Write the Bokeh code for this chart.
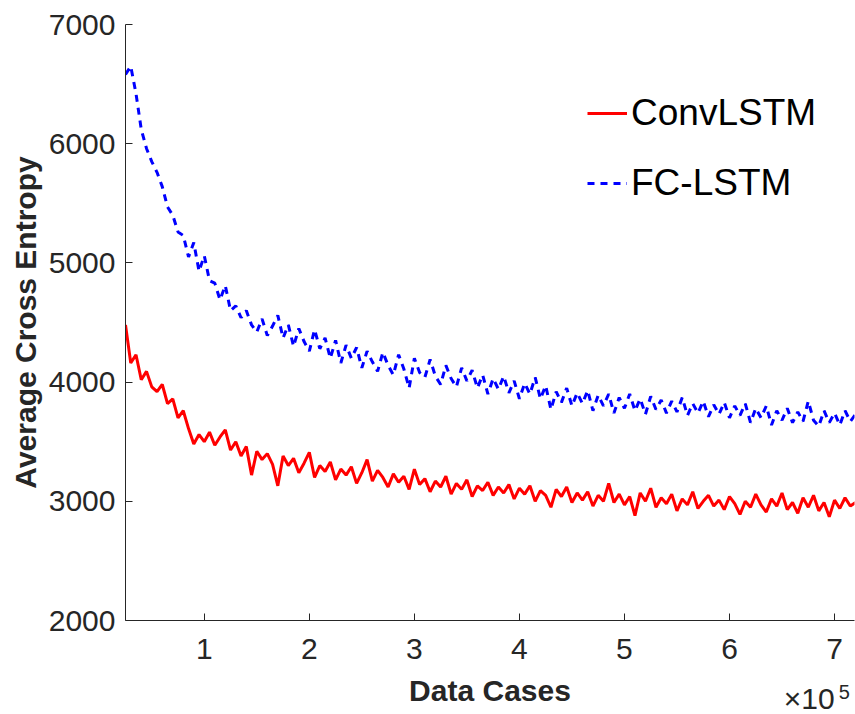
import numpy as np
from bokeh.plotting import figure
from bokeh.models import (Range1d, FixedTicker, CustomJSTickFormatter, Legend,
                          LegendItem, LinearAxis)
from bokeh.embed import file_html
from bokeh.resources import INLINE

# ---------------- data ----------------
x_start = 25000          # first data case
x_step = 5000            # spacing between recorded points

conv_lstm = [
    4480, 4160, 4230, 4020, 4090, 3960, 3920, 3980, 3820, 3860,
    3700, 3760, 3610, 3480, 3560, 3500, 3580, 3470, 3540, 3600,
    3430, 3500, 3380, 3460, 3220, 3420, 3350, 3400, 3310, 3130,
    3380, 3300, 3360, 3240, 3320, 3410, 3200, 3300, 3250, 3330,
    3180, 3270, 3220, 3290, 3150, 3240, 3350, 3170, 3260, 3200,
    3120, 3230, 3160, 3210, 3100, 3270, 3140, 3190, 3080, 3170,
    3120, 3210, 3060, 3150, 3100, 3180, 3040, 3130, 3090, 3160,
    3050, 3120, 3070, 3140, 3020, 3110, 3060, 3130, 3000, 3090,
    3050, 2950, 3100, 3040, 3120, 2990, 3070, 3010, 3080, 2960,
    3050, 3000, 3150, 2990, 3060, 2970, 3040, 2880, 3070, 3000,
    3110, 2950, 3030, 2980, 3060, 2920, 3020, 2970, 3080, 2940,
    3000, 3050, 2960, 3010, 2930, 3040, 2980, 2890, 3000, 2950,
    3060, 2970, 2910, 3020, 2960, 3070, 2930, 2990, 2900, 3030,
    2950, 3050, 2920, 2990, 2870, 3010, 2940, 3030, 2960, 2990,
]

fc_lstm = [
    6580, 6650, 6420, 6120, 5960, 5850, 5760, 5640, 5470, 5400,
    5260, 5230, 5050, 5170, 4930, 5060, 4850, 4830, 4690, 4810,
    4600, 4640, 4540, 4600, 4480, 4420, 4530, 4390, 4470, 4560,
    4370, 4480, 4300, 4450, 4340, 4260, 4440, 4280, 4370, 4200,
    4350, 4160, 4310, 4200, 4290, 4120, 4260, 4170, 4090, 4250,
    4140, 4060, 4230, 4110, 3950, 4200, 4080, 4040, 4190, 4050,
    3980, 4140, 4030, 3960, 4120, 4010, 4100, 3950, 4060, 3900,
    4030, 3940, 4050, 3910, 4010, 3860, 3990, 3900, 4040, 3860,
    3970, 3770, 3920, 3830, 3950, 3800, 3910, 3820, 3930, 3760,
    3890, 3800, 3900, 3740, 3870, 3780, 3900, 3760, 3860, 3730,
    3880, 3770, 3850, 3740, 3840, 3750, 3870, 3720, 3820, 3740,
    3840, 3710, 3810, 3730, 3830, 3700, 3800, 3720, 3820, 3660,
    3780, 3700, 3800, 3640, 3760, 3680, 3780, 3660, 3750, 3670,
    3840, 3680, 3630, 3760, 3660, 3740, 3640, 3760, 3670, 3730,
]

series_names = ["ConvLSTM", "FC-LSTM"]
x_ticks = [100000, 200000, 300000, 400000, 500000, 600000, 700000]
y_ticks = [2000, 3000, 4000, 5000, 6000, 7000]
x_multiplier = "×10"
x_exponent = "5"

cases = x_start + x_step * np.arange(len(conv_lstm))

# ---------------- figure ----------------
FONT = "Liberation Sans"
TXT = "#262626"

p = figure(width=855, height=714, output_backend="svg", toolbar_location=None,
           x_range=Range1d(25000, 719000), y_range=Range1d(2000, 7000),
           min_border_left=125, min_border_right=1, min_border_top=24,
           min_border_bottom=94)
p.outline_line_color = None
p.xgrid.visible = False
p.ygrid.visible = False
p.background_fill_color = "white"
p.border_fill_color = "white"

r1 = p.line(cases, conv_lstm, line_color="#ff0000", line_width=3)
r2 = p.line(cases, fc_lstm, line_color="#0000ff", line_width=3, line_dash="7 6")

for ax in (p.xaxis[0], p.yaxis[0]):
    ax.axis_line_color = TXT
    ax.axis_line_width = 1
    ax.major_tick_line_color = TXT
    ax.major_tick_in = 7
    ax.major_tick_out = 0
    ax.minor_tick_line_color = None
    ax.major_label_text_font = FONT
    ax.major_label_text_font_size = "30px"
    ax.major_label_text_color = TXT

p.xaxis.ticker = FixedTicker(ticks=x_ticks)
p.xaxis.formatter = CustomJSTickFormatter(code="return (tick / 1e5).toFixed(0);")
p.xaxis.major_label_standoff = 18

p.yaxis.ticker = FixedTicker(ticks=y_ticks)
p.yaxis.axis_label = "Average Cross Entropy"
p.yaxis.axis_label_text_font = FONT
p.yaxis.axis_label_text_font_size = "30px"
p.yaxis.axis_label_text_font_style = "bold"
p.yaxis.axis_label_text_color = TXT
p.yaxis.major_label_standoff = 10
p.yaxis.axis_label_standoff = 4


def bare_axis(tick, text, size, standoff):
    ax = LinearAxis(ticker=FixedTicker(ticks=[tick]),
                    formatter=CustomJSTickFormatter(code="return %r;" % text),
                    axis_line_color=None, major_tick_line_color=None,
                    minor_tick_line_color=None, major_label_standoff=standoff,
                    major_label_text_font=FONT, major_label_text_font_size=size,
                    major_label_text_color=TXT)
    p.add_layout(ax, "below")
    return ax


# "×10" multiplier row, carrying the bold x-axis title "Data Cases"
ax2 = bare_axis(675900, x_multiplier, "30px", 14)
ax2.axis_label = "Data Cases"
ax2.axis_label_text_font = FONT
ax2.axis_label_text_font_size = "30px"
ax2.axis_label_text_font_style = "bold"
ax2.axis_label_text_color = TXT
ax2.axis_label_standoff = -44

# superscript exponent
bare_axis(709200, x_exponent, "20px", -31)

legend = Legend(items=[LegendItem(label=series_names[0], renderers=[r1]),
                       LegendItem(label=series_names[1], renderers=[r2])],
                location=(462, 415), border_line_color=None,
                background_fill_alpha=0, label_text_font=FONT,
                label_text_font_size="37px", label_text_color="black",
                glyph_width=40, glyph_height=44, label_height=44,
                spacing=26, padding=0, margin=0, label_standoff=4)
p.add_layout(legend)

open("out.html", "w").write(file_html(p, INLINE))
